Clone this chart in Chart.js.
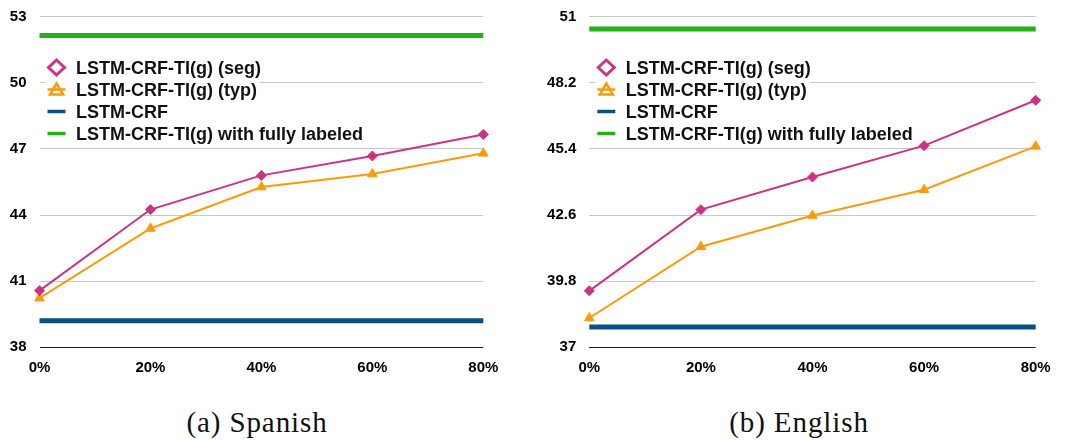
<!DOCTYPE html>
<html>
<head>
<meta charset="utf-8">
<script src="https://cdn.jsdelivr.net/npm/chart.js@4/dist/chart.umd.min.js"></script>
<style>
  html, body { margin: 0; padding: 0; background: #fff; }
  body { width: 1067px; height: 440px; position: relative; overflow: hidden; }
  canvas { position: absolute; top: 0; }
  #esChart { left: 0; }
  #enChart { left: 530px; }
  .caption {
    position: absolute; top: 408px; height: 29px; line-height: 29px;
    font-family: "Liberation Serif", "Times New Roman", serif;
    font-size: 29px; letter-spacing: 0.9px; color: #111;
    white-space: nowrap; transform: translateX(-50%);
  }
</style>
</head>
<body>
<canvas id="esChart" width="530" height="390"></canvas>
<canvas id="enChart" width="537" height="390"></canvas>
<div class="caption" style="left:257px">(a) Spanish</div>
<div class="caption" style="left:799px">(b) English</div>

<script>
// Share of partially labelled data (x axis)
const xLabels = ['0%', '20%', '40%', '60%', '80%'];

const seriesNames = [
  'LSTM-CRF-TI(g) (seg)',
  'LSTM-CRF-TI(g) (typ)',
  'LSTM-CRF',
  'LSTM-CRF-TI(g) with fully labeled'
];

// Spanish
const esSeg = [40.57, 44.25, 45.80, 46.68, 47.66];
const esTyp = [40.23, 43.39, 45.27, 45.86, 46.80];
const esBase = 39.21;
const esFull = 52.15;
const esTicks = [38, 41, 44, 47, 50, 53];

// English
const enSeg = [39.39, 42.83, 44.21, 45.54, 47.46];
const enTyp = [38.24, 41.26, 42.58, 43.67, 45.51];
const enBase = 37.86;
const enFull = 50.48;
const enTicks = [37, 39.8, 42.6, 45.4, 48.2, 51];

const COLORS = {
  seg: '#cc3385',
  typ: '#fd9a0a',
  base: '#0b5082',
  full: '#21b216'
};

const SANS = '"Liberation Sans", Arial, Helvetica, sans-serif';

// Legend drawn inside the plot area, one white-backed row per series
const insetLegend = {
  id: 'insetLegend',
  afterDatasetsDraw(chart, args, opts) {
    const ctx = chart.ctx;
    const mx = chart.chartArea.left + opts.dx;
    ctx.save();
    ctx.font = 'bold 18px ' + SANS;
    chart.data.datasets.forEach((ds, i) => {
      const y = opts.top + i * opts.step;
      const tx = mx + 19.5;
      const w = ctx.measureText(ds.label).width;
      ctx.fillStyle = '#fff';
      ctx.fillRect(mx - 11, y - 11, tx + w + 3 - (mx - 11), opts.step);

      ctx.strokeStyle = ds.borderColor;
      ctx.lineCap = 'butt';
      ctx.lineJoin = 'miter';
      if (ds.pointStyle === 'rectRot') {
        ctx.lineWidth = 3;
        ctx.beginPath();
        ctx.moveTo(mx, y - 7.5);
        ctx.lineTo(mx + 8, y);
        ctx.lineTo(mx, y + 7.5);
        ctx.lineTo(mx - 8, y);
        ctx.closePath();
        ctx.stroke();
      } else if (ds.pointStyle === 'triangle') {
        ctx.lineWidth = 2.5;
        ctx.beginPath();
        ctx.moveTo(mx - 9, y);
        ctx.lineTo(mx + 9, y);
        ctx.stroke();
        ctx.beginPath();
        ctx.moveTo(mx, y - 6);
        ctx.lineTo(mx + 6.5, y + 5);
        ctx.lineTo(mx - 6.5, y + 5);
        ctx.closePath();
        ctx.stroke();
      } else {
        ctx.lineWidth = 3.5;
        ctx.beginPath();
        ctx.moveTo(mx - 9, y);
        ctx.lineTo(mx + 9, y);
        ctx.stroke();
      }

      ctx.fillStyle = '#111';
      ctx.textBaseline = 'alphabetic';
      ctx.textAlign = 'left';
      ctx.fillText(ds.label, tx, y + 6.5);
    });
    ctx.restore();
  }
};

// Keep the plot area exactly where the layout padding puts it
function clearScalePadding(s) {
  s.paddingTop = 0;
  s.paddingBottom = 0;
  s.paddingLeft = 0;
  s.paddingRight = 0;
}

function makeChart(id, seg, typ, base, full, ticks, geom) {
  const datasets = [
    {
      label: seriesNames[0], data: seg,
      borderColor: COLORS.seg, backgroundColor: COLORS.seg,
      pointBackgroundColor: COLORS.seg, pointBorderColor: COLORS.seg,
      borderWidth: 2, pointStyle: 'rectRot', pointRadius: 5, pointBorderWidth: 1,
      tension: 0, order: 1
    },
    {
      label: seriesNames[1], data: typ,
      borderColor: COLORS.typ, backgroundColor: COLORS.typ,
      pointBackgroundColor: COLORS.typ, pointBorderColor: COLORS.typ,
      borderWidth: 2, pointStyle: 'triangle', pointRadius: 5.5, pointBorderWidth: 1,
      tension: 0, order: 2
    },
    {
      label: seriesNames[2], data: xLabels.map(() => base),
      borderColor: COLORS.base, backgroundColor: COLORS.base,
      borderWidth: 5, pointRadius: 0, pointStyle: 'line', borderCapStyle: 'butt',
      tension: 0, order: 3
    },
    {
      label: seriesNames[3], data: xLabels.map(() => full),
      borderColor: COLORS.full, backgroundColor: COLORS.full,
      borderWidth: 5, pointRadius: 0, pointStyle: 'line', borderCapStyle: 'butt',
      tension: 0, order: 4
    }
  ];

  return new Chart(document.getElementById(id), {
    type: 'line',
    data: { labels: xLabels, datasets },
    plugins: [insetLegend],
    options: {
      responsive: false,
      animation: false,
      devicePixelRatio: 1,
      layout: { padding: { top: 16.7, right: geom.right, bottom: 0, left: 0 } },
      plugins: {
        legend: { display: false },
        tooltip: { enabled: false },
        insetLegend: { dx: 17, top: 67.5, step: 22 }
      },
      scales: {
        x: {
          type: 'category',
          offset: false,
          grid: { display: false },
          border: { display: false },
          ticks: {
            color: '#000', padding: 4, maxRotation: 0, autoSkip: false,
            font: { family: SANS, size: 15, weight: 'bold' }
          },
          afterFit: s => { s.height = 42.7; clearScalePadding(s); }
        },
        y: {
          min: ticks[0],
          max: ticks[ticks.length - 1],
          afterBuildTicks: s => { s.ticks = ticks.map(v => ({ value: v })); },
          grid: {
            drawTicks: false,
            lineWidth: 1,
            color: c => (c.tick && c.tick.value === ticks[0]) ? '#1c1c1c' : '#c8c8c8'
          },
          border: { display: false },
          ticks: {
            color: '#000', padding: 13,
            font: { family: SANS, size: 15, weight: 'bold' },
            callback: v => String(v)
          },
          afterFit: s => { s.width = geom.axisWidth; clearScalePadding(s); }
        }
      }
    }
  });
}

makeChart('esChart', esSeg, esTyp, esBase, esFull, esTicks, { axisWidth: 39.5, right: 46.7 });
makeChart('enChart', enSeg, enTyp, enBase, enFull, enTicks, { axisWidth: 59.3, right: 31.3 });
</script>
</body>
</html>
